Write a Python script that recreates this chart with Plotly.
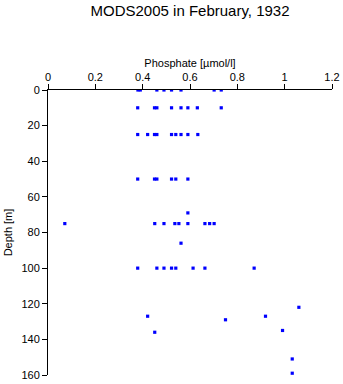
import plotly.graph_objects as go

# Phosphate [µmol/l] values and depths [m]
phosphate = [
    0.38, 0.39, 0.46, 0.49, 0.522, 0.562, 0.702, 0.732,
    0.379, 0.45, 0.46, 0.522, 0.562, 0.591, 0.631, 0.732,
    0.379, 0.421, 0.45, 0.46, 0.522, 0.54, 0.562, 0.591, 0.633,
    0.379, 0.45, 0.46, 0.522, 0.54, 0.591,
    0.591,
    0.071, 0.451, 0.49, 0.536, 0.553, 0.591, 0.663, 0.683, 0.702,
    0.562,
    0.379, 0.46, 0.49, 0.522, 0.54, 0.613, 0.663, 0.871,
    1.06, 0.421, 0.919, 0.75, 0.991, 0.451, 1.032, 1.032,
]
depth = [
    0, 0, 0, 0, 0, 0, 0, 0,
    10, 10, 10, 10, 10, 10, 10, 10,
    25, 25, 25, 25, 25, 25, 25, 25, 25,
    50, 50, 50, 50, 50, 50,
    69,
    75, 75, 75, 75, 75, 75, 75, 75, 75,
    86,
    100, 100, 100, 100, 100, 100, 100, 100,
    122, 127, 127, 129, 135, 136, 151, 159,
]

x_ticks = [0, 0.2, 0.4, 0.6, 0.8, 1, 1.2]
x_ticklabels = ["0", "0.2", "0.4", "0.6", "0.8", "1", "1.2"]
y_ticks = [0, 20, 40, 60, 80, 100, 120, 140, 160]

font = "Liberation Sans, Arial, sans-serif"

fig = go.Figure(go.Scatter(
    x=phosphate, y=depth, mode="markers",
    marker=dict(symbol="square", size=3.2, color="#0000ff", line=dict(width=0)),
    showlegend=False,
))

fig.update_layout(
    width=343, height=384,
    margin=dict(l=48, r=11, t=90, b=9, autoexpand=False),
    paper_bgcolor="white", plot_bgcolor="white",
    font=dict(family=font, size=11, color="black"),
    title=dict(text="MODS2005 in February, 1932", x=0.554, xanchor="center",
               y=0.972, yanchor="middle", font=dict(family=font, size=15, color="black")),
    xaxis=dict(
        side="top", range=[0, 1.2], tickvals=x_ticks, ticktext=x_ticklabels,
        ticks="outside", ticklen=5, tickwidth=1, tickcolor="black",
        ticklabelstandoff=-1,
        showline=True, linecolor="black", linewidth=1, mirror=False,
        showgrid=False, zeroline=False, automargin=False,
        title=dict(text="Phosphate [µmol/l]", font=dict(family=font, size=11), standoff=0),
        tickfont=dict(family=font, size=11),
    ),
    yaxis=dict(
        range=[160, 0], tickvals=y_ticks,
        ticks="outside", ticklen=5, tickwidth=1, tickcolor="black",
        showline=True, linecolor="black", linewidth=1, mirror=False,
        showgrid=False, zeroline=False, automargin=False,
        title=dict(text="Depth [m]", font=dict(family=font, size=11), standoff=6),
        tickfont=dict(family=font, size=11),
    ),
)

fig.write_html("out.html")
